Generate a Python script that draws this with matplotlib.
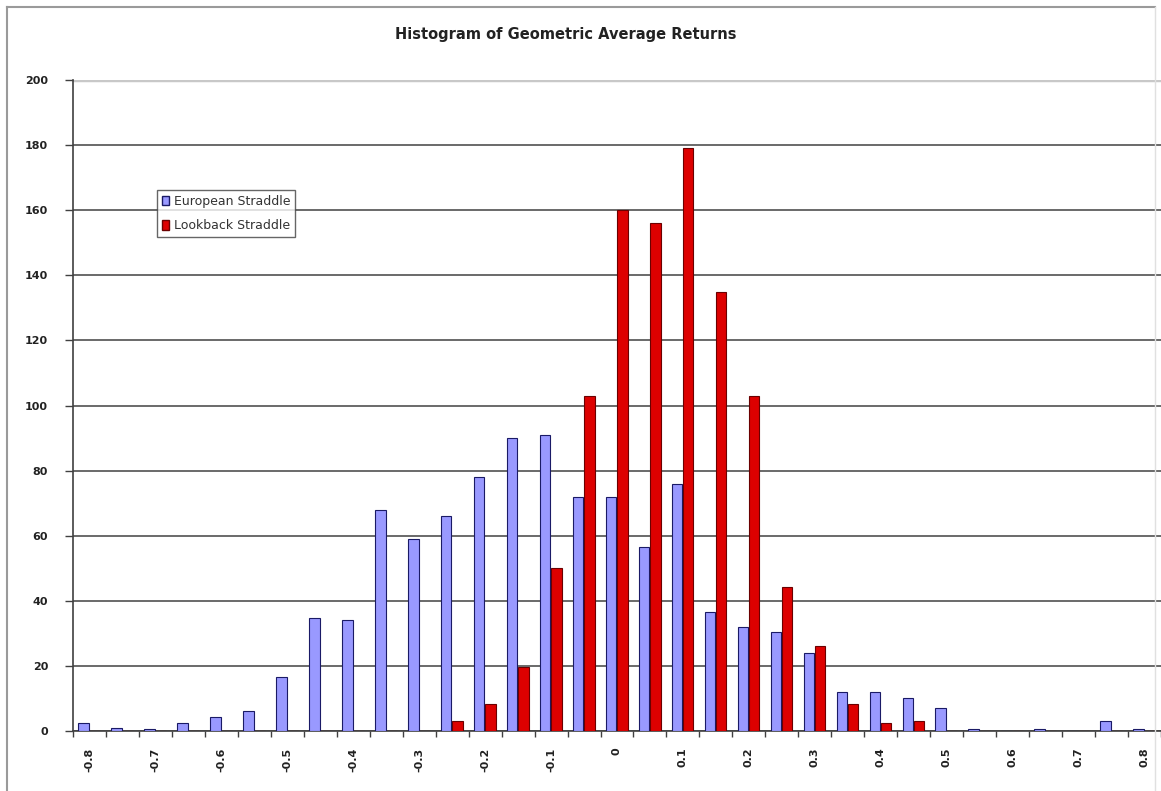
import numpy as np
import matplotlib.pyplot as plt
from matplotlib.lines import Line2D
from matplotlib.patches import Patch

### data
bins = ['-0.8', '-0.75', '-0.7', '-0.65', '-0.6', '-0.55', '-0.5', '-0.45', '-0.4', '-0.35',
        '-0.3', '-0.25', '-0.2', '-0.15', '-0.1', '-0.05', '0', '0.05', '0.1', '0.15',
        '0.2', '0.25', '0.3', '0.35', '0.4', '0.45', '0.5', '0.55', '0.6', '0.65',
        '0.7', '0.75', '0.8']
european = [2.5, 1, 0.7, 2.5, 4.3, 6, 16.7, 34.7, 34, 68, 59, 66, 78, 90, 91, 72, 72,
            56.5, 76, 36.7, 32, 30.4, 24, 12, 12, 10, 7, 0.7, 0, 0.6, 0, 3, 0.6]
lookback = [0, 0, 0, 0, 0, 0, 0, 0, 0, 0, 0, 3, 8.2, 19.7, 50, 103, 160,
            156, 179, 135, 103, 44.3, 26.2, 8.3, 2.4, 3, 0, 0, 0, 0, 0, 0, 0]

### figure
fig = plt.figure(figsize=(11.61, 7.91), dpi=100)
ax = fig.add_axes([73/1161, 1-731/791, 1-73/1161, (731-80)/791])

x = np.arange(len(bins))
w = 0.32
ax.bar(x - w/2 - 0.02, european, width=w, color='#9999FF', edgecolor='#1a1a66', linewidth=0.8, zorder=3)
ax.bar(x + w/2, lookback, width=w, color='#DD0000', edgecolor='#6b0000', linewidth=0.8, zorder=3)

ax.set_xlim(-0.5, len(bins) - 0.5)
ax.set_ylim(0, 200)

### grid
ax.set_yticks(np.arange(0, 201, 20))
ax.yaxis.grid(True, color='#505050', linewidth=1.2, zorder=0)
ax.set_axisbelow(True)
gl = ax.get_ygridlines()
gl[-1].set_color('#c8c8c8')
gl[-1].set_linewidth(2.5)

for s in ['top', 'right']:
    ax.spines[s].set_visible(False)
ax.spines['left'].set_color('#404040')
ax.spines['left'].set_linewidth(1.2)
ax.spines['bottom'].set_color('#404040')
ax.spines['bottom'].set_linewidth(1.2)

ax.tick_params(axis='y', length=6, width=1, color='#404040', labelsize=8, pad=12)
for t in ax.get_yticklabels():
    t.set_fontweight('bold')
    t.set_color('#222222')

### x labels every other bin, ticks between bins
ax.set_xticks(x[::2])
ax.set_xticklabels(bins[::2], rotation=90, fontsize=8, fontweight='bold', color='#222222')
ax.tick_params(axis='x', which='major', length=0, pad=12)
ax.set_xticks(np.arange(-0.5, len(bins), 1), minor=True)
ax.tick_params(axis='x', which='minor', length=4, width=1, color='#404040')

### legend
handles = [Patch(facecolor='#9999FF', edgecolor='#1a1a66', label='European Straddle'),
           Patch(facecolor='#DD0000', edgecolor='#6b0000', label='Lookback Straddle')]
leg = ax.legend(handles=handles, loc='upper left', bbox_to_anchor=((157-73)/1088, (731-190)/651),
                fontsize=9, frameon=True, fancybox=False, handlelength=0.55, handleheight=0.8,
                handletextpad=0.4, borderpad=0.4, labelspacing=0.9, borderaxespad=0)
leg.get_frame().set_edgecolor('#404040')
leg.get_frame().set_linewidth(1)
for t in leg.get_texts():
    t.set_color('#333333')

### title
fig.text(566/1161, 1-35/791, 'Histogram of Geometric Average Returns',
         ha='center', va='center', fontsize=10.5, fontweight='bold', color='#222222')

### outer frame
frame_col = '#9a9a9a'
fig.add_artist(Line2D([7/1161, 7/1161], [0, 1-7/791], color=frame_col, linewidth=1.5, transform=fig.transFigure))
fig.add_artist(Line2D([7/1161, 1155/1161], [1-7/791, 1-7/791], color=frame_col, linewidth=1.5, transform=fig.transFigure))
fig.add_artist(Line2D([1155/1161, 1155/1161], [0, 1-7/791], color='#e0e0e0', linewidth=1, transform=fig.transFigure))

plt.savefig('out.png', dpi=100)
